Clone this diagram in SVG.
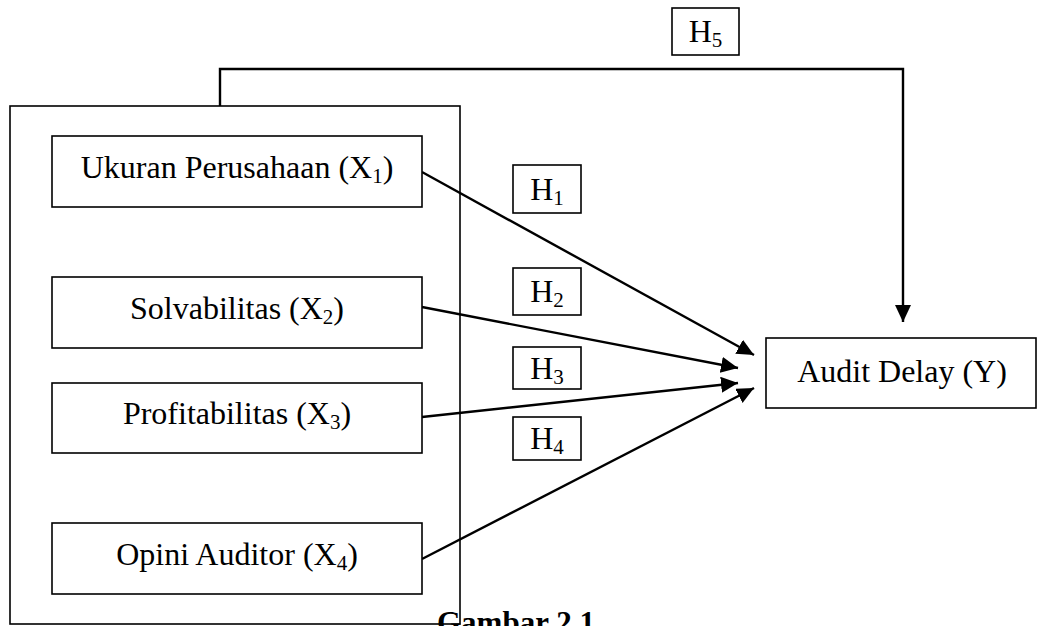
<svg xmlns="http://www.w3.org/2000/svg" width="1039" height="626" viewBox="0 0 1039 626">
<style>
  .box { fill: #ffffff; stroke: #000000; stroke-width: 1.6; }
  .outer { fill: none; stroke: #000000; stroke-width: 1.6; }
  .lbl { font-family: "Liberation Serif", "Times New Roman", serif; font-size: 32px; fill: #000000; text-anchor: middle; }
  .sub { font-size: 21px; }
  .conn { fill: none; stroke: #000000; stroke-width: 2.4; }
  .cap { font-family: "Liberation Serif", "Times New Roman", serif; font-size: 31px; font-weight: bold; fill: #000000; }
</style>
<defs>
  <marker id="arrow" markerUnits="userSpaceOnUse" markerWidth="20" markerHeight="18" refX="17" refY="8" orient="auto">
    <path d="M0,0 L17,8 L0,16 z" fill="#000000"/>
  </marker>
</defs>
<rect width="1039" height="626" fill="#ffffff"/>

<g id="group-independent">
  <rect class="outer" x="10" y="106" width="450" height="518"/>
</g>

<g id="connectors">
  <path class="conn" d="M220,106 V69 H903 V322" marker-end="url(#arrow)"/>
  <line class="conn" x1="422" y1="172" x2="754" y2="355" marker-end="url(#arrow)"/>
  <line class="conn" x1="422" y1="307" x2="738" y2="368" marker-end="url(#arrow)"/>
  <line class="conn" x1="422" y1="417" x2="738" y2="383" marker-end="url(#arrow)"/>
  <line class="conn" x1="422" y1="559" x2="754" y2="388" marker-end="url(#arrow)"/>
</g>

<g id="node-x1">
  <rect class="box" x="52" y="136" width="370" height="71"/>
  <text class="lbl" x="237" y="178">Ukuran Perusahaan (X<tspan class="sub" dy="5">1</tspan><tspan dy="-5">)</tspan></text>
</g>
<g id="node-x2">
  <rect class="box" x="52" y="277" width="370" height="71"/>
  <text class="lbl" x="237" y="319">Solvabilitas (X<tspan class="sub" dy="5">2</tspan><tspan dy="-5">)</tspan></text>
</g>
<g id="node-x3">
  <rect class="box" x="52" y="383" width="370" height="70"/>
  <text class="lbl" x="237" y="424">Profitabilitas (X<tspan class="sub" dy="5">3</tspan><tspan dy="-5">)</tspan></text>
</g>
<g id="node-x4">
  <rect class="box" x="52" y="523" width="370" height="71"/>
  <text class="lbl" x="237" y="565">Opini Auditor (X<tspan class="sub" dy="5">4</tspan><tspan dy="-5">)</tspan></text>
</g>
<g id="node-y">
  <rect class="box" x="766" y="338" width="270" height="70"/>
  <text class="lbl" x="902" y="382">Audit Delay (Y)</text>
</g>

<g id="label-h1">
  <rect class="box" x="513" y="165" width="68" height="48"/>
  <text class="lbl" x="547" y="200">H<tspan class="sub" dy="5">1</tspan></text>
</g>
<g id="label-h2">
  <rect class="box" x="513" y="268" width="68" height="47"/>
  <text class="lbl" x="547" y="302">H<tspan class="sub" dy="5">2</tspan></text>
</g>
<g id="label-h3">
  <rect class="box" x="513" y="347" width="68" height="42"/>
  <text class="lbl" x="547" y="379">H<tspan class="sub" dy="5">3</tspan></text>
</g>
<g id="label-h4">
  <rect class="box" x="513" y="417" width="68" height="43"/>
  <text class="lbl" x="547" y="449">H<tspan class="sub" dy="5">4</tspan></text>
</g>
<g id="label-h5">
  <rect class="box" x="672" y="8" width="67" height="47"/>
  <text class="lbl" x="705.5" y="42">H<tspan class="sub" dy="5">5</tspan></text>
</g>

<text class="cap" x="437" y="633">Gambar 2.1</text>
</svg>
